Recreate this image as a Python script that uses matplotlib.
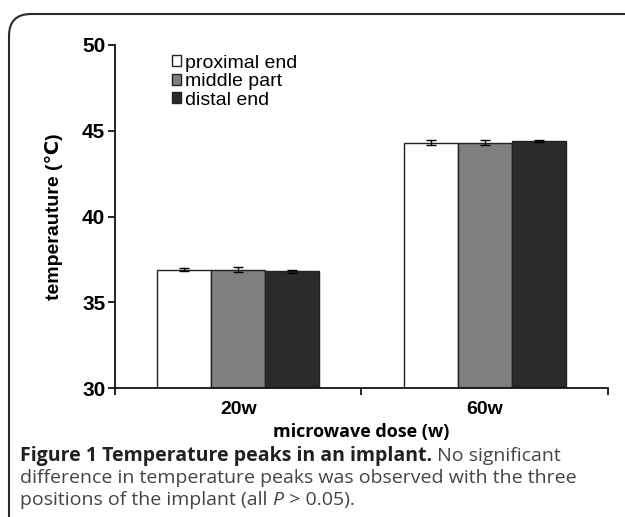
import matplotlib
matplotlib.use("Agg")
import matplotlib.pyplot as plt
import numpy as np
from matplotlib.patches import FancyBboxPatch, Patch

# data
doses = ["20w", "60w"]
series = ["proximal end", "middle part", "distal end"]
peak_20w = [36.9, 36.9, 36.8]
peak_60w = [44.3, 44.3, 44.4]
err_20w = [0.1, 0.15, 0.1]
err_60w = [0.15, 0.15, 0.05]
colors = ["#ffffff", "#808080", "#2b2b2b"]

yticks = [30, 35, 40, 45, 50]

W, H = 625, 517
fig = plt.figure(figsize=(W / 100, H / 100), dpi=100)

# rounded frame around the figure (runs off the right and bottom edges)
frame = FancyBboxPatch(
    (9 / 100, -0.4), (660 - 9) / 100, (H - 14) / 100 + 0.4,
    boxstyle="round,pad=0,rounding_size=0.22",
    transform=fig.dpi_scale_trans, fill=False,
    edgecolor="#2a2a2a", linewidth=1.5,
)
fig.patches.append(frame)

ax_top, ax_bot = 45, 388
ax = fig.add_axes([115 / W, 1 - ax_bot / H, 493 / W, (ax_bot - ax_top) / H])

arial = ["Liberation Sans", "DejaVu Sans"]
values = np.array([peak_20w, peak_60w])
errors = np.array([err_20w, err_60w])
x = np.arange(len(doses))
width = 0.219
for i, name in enumerate(series):
    ax.bar(
        x + (i - 1) * width, values[:, i], width,
        yerr=errors[:, i], color=colors[i], edgecolor="#222222",
        linewidth=1.0, capsize=3.5, error_kw={"elinewidth": 1, "capthick": 1},
        label=name, zorder=2,
    )

ax.set_ylim(30, 50)
ax.set_xlim(-0.5, 1.5)
ax.set_yticks(yticks)
ax.set_yticklabels([str(t) for t in yticks], fontfamily=arial,
                   fontweight="bold", fontsize=15)
ax.set_xticks(x)
ax.set_xticklabels(doses, fontfamily=arial, fontweight="bold", fontsize=14)
ax.set_xticks([-0.5, 0.5, 1.5], minor=True)
ax.tick_params(axis="x", which="major", length=0, pad=9)
ax.tick_params(axis="x", which="minor", length=5, width=1.2, direction="out")
ax.tick_params(axis="y", length=5, width=1.2, direction="out", pad=2)
for s in ["top", "right"]:
    ax.spines[s].set_visible(False)
for s in ["left", "bottom"]:
    ax.spines[s].set_linewidth(1.3)
    ax.spines[s].set_color("#111111")

ax.set_ylabel("temperauture (℃)", fontfamily=arial, fontweight="bold",
              fontsize=14, labelpad=14)

handles = [Patch(facecolor=c, edgecolor="#222222", linewidth=1.0) for c in colors]
ax.legend(handles, series, loc="upper left", bbox_to_anchor=(0.095, 1.0),
          frameon=False, prop={"family": arial, "size": 14},
          handlelength=0.5, handleheight=0.5, handletextpad=0.2,
          labelspacing=0.08, borderpad=0.0)

fig.text(361 / W, 1 - 432 / H, "microwave dose (w)", ha="center",
         va="center", fontfamily="Open Sans", fontweight="bold", fontsize=13)

# caption, drawn as runs so bold / italic parts sit inline
renderer = fig.canvas.get_renderer()


def draw_runs(runs, x0, yc):
    xp = x0
    for txt, weight, style, color in runs:
        t = fig.text(xp / W, 1 - yc / H, txt, ha="left", va="center",
                     fontfamily="Open Sans", fontweight=weight, style=style,
                     fontsize=14, color=color)
        bb = t.get_window_extent(renderer=renderer)
        xp += bb.width


cap_x = 20
draw_runs([("Figure 1 Temperature peaks in an implant.", "bold", "normal", "#231f20"),
           (" No significant", "normal", "normal", "#444444")], cap_x, 456)
draw_runs([("difference in temperature peaks was observed with the three",
            "normal", "normal", "#444444")], cap_x, 478)
draw_runs([("positions of the implant (all ", "normal", "normal", "#444444"),
           ("P", "normal", "italic", "#444444"),
           (" > 0.05).", "normal", "normal", "#444444")], cap_x, 500)

fig.savefig("out.png", dpi=100)
